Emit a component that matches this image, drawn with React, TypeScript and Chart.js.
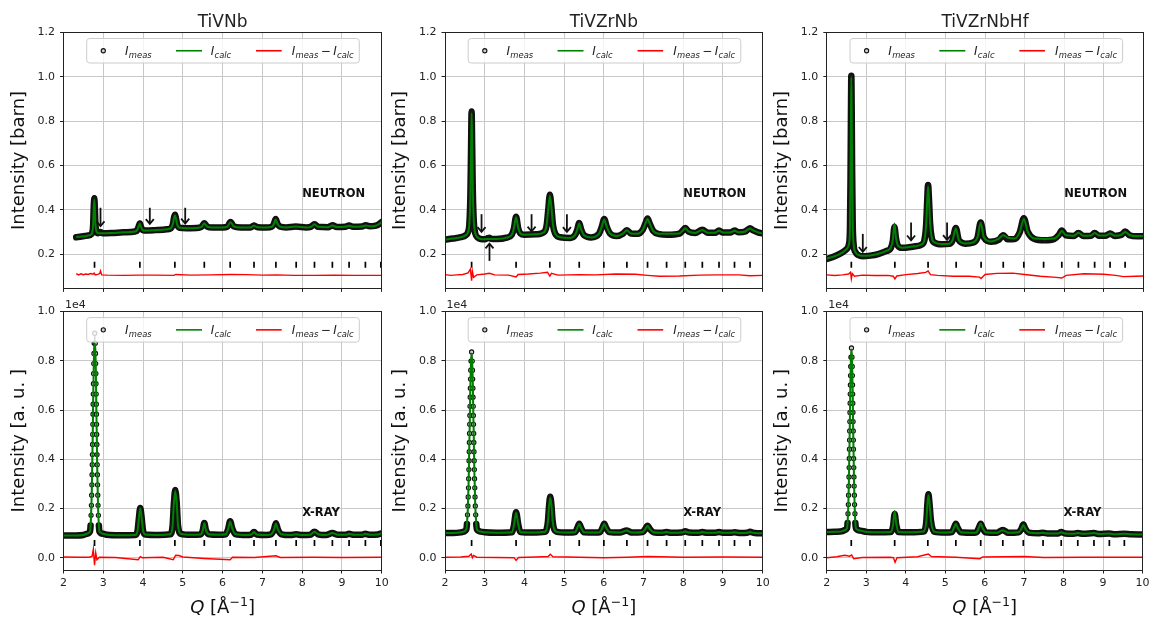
import React, { useEffect, useRef } from "react";
import { Chart, registerables } from "chart.js";

Chart.register(...registerables);
const FONT = "'DejaVu Sans', sans-serif";
Chart.defaults.font.family = FONT;
Chart.defaults.color = "#222";

// ---------------- shared axes ----------------
const qTicks = [2, 3, 4, 5, 6, 7, 8, 9, 10];
const yTicksNeutron = [0.2, 0.4, 0.6, 0.8, 1.0, 1.2];
const yTicksXray = [0.0, 0.2, 0.4, 0.6, 0.8, 1.0];
const titles = ["TiVNb", "TiVZrNb", "TiVZrNbHf"];

// ---------------- TiVNb neutron ----------------
const qA = [2.32, 2.45, 2.6, 2.68, 2.72, 2.745, 2.76, 2.775, 2.79, 2.805,
  2.83, 2.87, 2.93, 2.98, 3.2, 3.5, 3.8, 3.85, 3.89, 3.92,
  3.95, 3.99, 4.05, 4.3, 4.6, 4.7, 4.75, 4.78, 4.805, 4.83,
  4.86, 4.92, 5.1, 5.4, 5.47, 5.54, 5.61, 5.75, 6.0, 6.12,
  6.2, 6.28, 6.45, 6.7, 6.79, 6.88, 7.1, 7.24, 7.29, 7.335,
  7.38, 7.44, 7.6, 7.84, 8.1, 8.22, 8.31, 8.4, 8.65, 8.76,
  8.87, 9.08, 9.18, 9.28, 9.5, 9.6, 9.7, 9.85, 9.93, 10.0];
const measA = [0.276, 0.279, 0.283, 0.287, 0.295, 0.33, 0.41, 0.452, 0.40, 0.33,
  0.302, 0.294, 0.3, 0.294, 0.295, 0.298, 0.302, 0.307, 0.325, 0.338,
  0.322, 0.309, 0.306, 0.308, 0.312, 0.317, 0.334, 0.366, 0.377, 0.359,
  0.332, 0.319, 0.317, 0.319, 0.323, 0.339, 0.324, 0.32, 0.32, 0.324,
  0.345, 0.325, 0.32, 0.32, 0.329, 0.321, 0.32, 0.324, 0.336, 0.358,
  0.337, 0.324, 0.32, 0.324, 0.32, 0.323, 0.335, 0.323, 0.321, 0.33,
  0.322, 0.323, 0.329, 0.323, 0.324, 0.33, 0.325, 0.328, 0.335, 0.345];
const calcA = [0.277, 0.279, 0.283, 0.287, 0.296, 0.332, 0.405, 0.445, 0.398, 0.332,
  0.302, 0.294, 0.294, 0.294, 0.295, 0.298, 0.302, 0.308, 0.325, 0.337,
  0.322, 0.309, 0.306, 0.308, 0.312, 0.317, 0.336, 0.364, 0.374, 0.358,
  0.332, 0.319, 0.317, 0.319, 0.323, 0.338, 0.324, 0.32, 0.32, 0.324,
  0.344, 0.325, 0.32, 0.32, 0.328, 0.321, 0.32, 0.324, 0.336, 0.356,
  0.337, 0.324, 0.32, 0.324, 0.32, 0.323, 0.334, 0.323, 0.321, 0.329,
  0.322, 0.323, 0.328, 0.323, 0.324, 0.329, 0.325, 0.328, 0.335, 0.344];
const dqA = [2.32, 2.38, 2.44, 2.5, 2.56, 2.62, 2.68, 2.74, 2.77, 2.80,
  2.86, 2.91, 2.93, 2.96, 3.1, 3.5, 3.9, 4.3, 4.78, 4.82,
  5.2, 5.7, 6.2, 6.6, 7.0, 7.35, 7.8, 8.3, 8.8, 9.3, 9.7, 10.0];
const diffA = [0.112, 0.106, 0.111, 0.107, 0.11, 0.108, 0.112, 0.109, 0.114, 0.106,
  0.108, 0.112, 0.124, 0.106, 0.105, 0.104, 0.105, 0.105, 0.104, 0.108,
  0.105, 0.106, 0.108, 0.107, 0.105, 0.106, 0.104, 0.104, 0.105, 0.104, 0.104, 0.104];
const braggA = [2.78, 3.92, 4.80, 5.54, 6.19, 6.79, 7.34, 7.85, 8.31, 8.76, 9.18, 9.59, 9.98];
const arrowsA = [[2.93, 0.409, 0.326], [4.17, 0.409, 0.336], [5.06, 0.409, 0.338]];

// ---------------- TiVZrNb neutron ----------------
const qB = [2.0, 2.2, 2.4, 2.52, 2.58, 2.615, 2.64, 2.655, 2.67, 2.685,
  2.70, 2.725, 2.76, 2.82, 2.9, 3.0, 3.08, 3.12, 3.16, 3.3,
  3.55, 3.68, 3.735, 3.79, 3.845, 3.9, 4.0, 4.3, 4.5, 4.56,
  4.6, 4.64, 4.68, 4.72, 4.78, 4.9, 5.15, 5.28, 5.33, 5.38,
  5.43, 5.5, 5.68, 5.88, 5.95, 6.01, 6.07, 6.15, 6.32, 6.48,
  6.58, 6.68, 6.85, 6.98, 7.05, 7.1, 7.15, 7.24, 7.4, 7.6,
  7.9, 7.98, 8.05, 8.13, 8.3, 8.48, 8.62, 8.8, 8.9, 9.0,
  9.18, 9.29, 9.4, 9.56, 9.62, 9.68, 9.75, 9.88, 10.0];
const measB = [0.265, 0.27, 0.276, 0.285, 0.3, 0.34, 0.47, 0.66, 0.843, 0.68,
  0.49, 0.35, 0.295, 0.275, 0.268, 0.267, 0.272, 0.274, 0.269, 0.268,
  0.274, 0.287, 0.315, 0.368, 0.315, 0.293, 0.287, 0.289, 0.3, 0.33,
  0.4, 0.468, 0.41, 0.33, 0.29, 0.276, 0.273, 0.287, 0.31, 0.34,
  0.31, 0.285, 0.275, 0.292, 0.325, 0.358, 0.325, 0.294, 0.281, 0.292,
  0.308, 0.293, 0.292, 0.31, 0.34, 0.36, 0.34, 0.305, 0.29, 0.287,
  0.292, 0.305, 0.318, 0.302, 0.295, 0.31, 0.296, 0.296, 0.306, 0.297,
  0.297, 0.306, 0.298, 0.302, 0.31, 0.316, 0.308, 0.298, 0.293];
const calcB = [0.265, 0.27, 0.276, 0.285, 0.3, 0.34, 0.47, 0.655, 0.835, 0.675,
  0.49, 0.35, 0.295, 0.275, 0.268, 0.267, 0.268, 0.268, 0.268, 0.268,
  0.274, 0.287, 0.317, 0.366, 0.316, 0.293, 0.287, 0.289, 0.3, 0.332,
  0.402, 0.462, 0.41, 0.33, 0.29, 0.276, 0.273, 0.287, 0.31, 0.337,
  0.31, 0.285, 0.275, 0.292, 0.325, 0.355, 0.325, 0.294, 0.281, 0.292,
  0.307, 0.293, 0.292, 0.31, 0.34, 0.358, 0.34, 0.305, 0.292, 0.292,
  0.293, 0.305, 0.316, 0.302, 0.295, 0.309, 0.296, 0.296, 0.305, 0.297,
  0.297, 0.305, 0.298, 0.302, 0.31, 0.315, 0.308, 0.298, 0.293];
const dqB = [2.0, 2.15, 2.3, 2.45, 2.58, 2.64, 2.67, 2.69, 2.72, 2.8,
  3.0, 3.12, 3.25, 3.6, 3.79, 3.84, 4.1, 4.4, 4.58, 4.64,
  4.68, 4.85, 5.38, 5.8, 6.3, 6.8, 7.1, 7.4, 7.9, 8.4,
  8.9, 9.4, 9.68, 10.0];
const diffB = [0.107, 0.104, 0.106, 0.108, 0.115, 0.132, 0.08, 0.122, 0.095, 0.106,
  0.11, 0.113, 0.106, 0.105, 0.097, 0.108, 0.11, 0.114, 0.118, 0.1,
  0.113, 0.105, 0.107, 0.106, 0.11, 0.109, 0.104, 0.1, 0.101, 0.105,
  0.106, 0.106, 0.102, 0.104];
const braggB = [2.67, 3.79, 4.64, 5.38, 6.0, 6.58, 7.1, 7.58, 8.05, 8.48, 8.9, 9.29, 9.68];
const arrowsB = [[2.92, 0.38, 0.30], [3.12, 0.169, 0.247], [4.18, 0.38, 0.302], [5.07, 0.38, 0.30]];

// ---------------- TiVZrNbHf neutron ----------------
const qC = [2.0, 2.2, 2.4, 2.5, 2.56, 2.585, 2.60, 2.61, 2.62, 2.63,
  2.64, 2.655, 2.68, 2.72, 2.8, 2.9, 3.1, 3.3, 3.5, 3.62,
  3.67, 3.71, 3.75, 3.8, 3.9, 4.2, 4.4, 4.47, 4.51, 4.535,
  4.56, 4.585, 4.61, 4.65, 4.72, 4.9, 5.1, 5.18, 5.26, 5.34,
  5.5, 5.7, 5.81, 5.89, 5.97, 6.15, 6.35, 6.46, 6.57, 6.75,
  6.88, 6.98, 7.08, 7.25, 7.5, 7.75, 7.86, 7.94, 8.04, 8.25,
  8.36, 8.48, 8.68, 8.77, 8.88, 9.05, 9.16, 9.28, 9.45, 9.54,
  9.65, 9.85, 10.0];
const measC = [0.178, 0.19, 0.208, 0.222, 0.245, 0.31, 0.55, 0.82, 1.005, 0.84,
  0.58, 0.34, 0.24, 0.21, 0.195, 0.19, 0.193, 0.2, 0.213, 0.228,
  0.26, 0.322, 0.27, 0.237, 0.228, 0.234, 0.243, 0.265, 0.33, 0.43,
  0.512, 0.44, 0.34, 0.275, 0.252, 0.244, 0.246, 0.262, 0.318, 0.262,
  0.247, 0.252, 0.275, 0.343, 0.275, 0.256, 0.265, 0.285, 0.267, 0.268,
  0.3, 0.362, 0.3, 0.268, 0.262, 0.268, 0.285, 0.306, 0.285, 0.282,
  0.295, 0.282, 0.283, 0.295, 0.283, 0.283, 0.293, 0.282, 0.287, 0.302,
  0.285, 0.28, 0.281];
const calcC = [0.18, 0.19, 0.208, 0.222, 0.245, 0.31, 0.55, 0.81, 0.998, 0.83,
  0.58, 0.34, 0.24, 0.21, 0.196, 0.192, 0.194, 0.201, 0.214, 0.23,
  0.265, 0.338, 0.272, 0.238, 0.229, 0.235, 0.244, 0.266, 0.33, 0.43,
  0.505, 0.44, 0.34, 0.276, 0.253, 0.245, 0.247, 0.263, 0.315, 0.263,
  0.248, 0.253, 0.276, 0.34, 0.276, 0.257, 0.27, 0.285, 0.274, 0.27,
  0.3, 0.358, 0.3, 0.27, 0.268, 0.27, 0.285, 0.304, 0.286, 0.283,
  0.296, 0.283, 0.284, 0.295, 0.284, 0.284, 0.293, 0.283, 0.288, 0.3,
  0.286, 0.281, 0.282];
const dqC = [2.0, 2.2, 2.4, 2.55, 2.6, 2.62, 2.645, 2.7, 2.9, 3.2,
  3.55, 3.68, 3.72, 3.77, 4.0, 4.3, 4.5, 4.56, 4.62, 4.8,
  5.2, 5.6, 5.86, 5.9, 6.0, 6.3, 6.7, 7.0, 7.4, 7.8,
  7.94, 8.05, 8.5, 9.0, 9.3, 9.5, 9.8, 10.0];
const diffC = [0.106, 0.103, 0.106, 0.11, 0.118, 0.088, 0.112, 0.1, 0.105, 0.103,
  0.104, 0.1, 0.088, 0.101, 0.107, 0.112, 0.117, 0.124, 0.107, 0.104,
  0.1, 0.1, 0.096, 0.09, 0.108, 0.113, 0.114, 0.108, 0.1, 0.095,
  0.092, 0.104, 0.111, 0.109, 0.104, 0.098, 0.1, 0.101];
const braggC = [2.62, 3.72, 4.56, 5.27, 5.90, 6.46, 6.98, 7.48, 7.94, 8.36, 8.77, 9.16, 9.54];
const arrowsC = [[2.91, 0.291, 0.21], [4.13, 0.343, 0.262], [5.04, 0.343, 0.264]];

// ---------------- TiVNb X-ray (x 1e4) ----------------
const qD = [2.0, 2.3, 2.5, 2.58,
  2.666, 2.681, 2.693, 2.702, 2.708, 2.714, 2.718, 2.723, 2.727, 2.731, 2.735, 2.738, 2.742, 2.745, 2.749, 2.753, 2.756, 2.761, 2.765, 2.772,
  2.785,
  2.799, 2.805, 2.809, 2.814, 2.817, 2.821, 2.825, 2.828, 2.832, 2.835, 2.839, 2.843, 2.847, 2.852, 2.856, 2.862, 2.868, 2.877, 2.889, 2.904,
  3.0, 3.1, 3.4, 3.8, 3.86, 3.895, 3.93, 3.965, 4.0, 4.06,
  4.4, 4.68, 4.74, 4.775, 4.81, 4.845, 4.88, 4.95, 5.2, 5.44,
  5.5, 5.54, 5.58, 5.66, 5.9, 6.08, 6.14, 6.19, 6.24, 6.32,
  6.6, 6.72, 6.79, 6.86, 7.1, 7.22, 7.29, 7.34, 7.39, 7.48,
  7.7, 7.85, 8.0, 8.2, 8.31, 8.42, 8.6, 8.76, 8.9, 9.1,
  9.18, 9.3, 9.5, 9.59, 9.7, 9.9, 9.98, 10.0];
const measD = [0.09, 0.09, 0.092, 0.097,
  0.106, 0.131, 0.172, 0.213, 0.254, 0.296, 0.337, 0.378, 0.419, 0.46, 0.501, 0.542, 0.583, 0.624, 0.665, 0.707, 0.748, 0.789, 0.83, 0.871,
  0.912,
  0.871, 0.83, 0.789, 0.748, 0.707, 0.665, 0.624, 0.583, 0.542, 0.501, 0.46, 0.419, 0.378, 0.337, 0.296, 0.254, 0.213, 0.172, 0.131, 0.106,
  0.097, 0.093, 0.091, 0.092, 0.108, 0.16, 0.202, 0.162, 0.11, 0.094,
  0.092, 0.095, 0.125, 0.22, 0.275, 0.225, 0.13, 0.097, 0.093, 0.094,
  0.11, 0.141, 0.112, 0.095, 0.093, 0.095, 0.117, 0.148, 0.12, 0.096,
  0.092, 0.094, 0.104, 0.094, 0.092, 0.095, 0.113, 0.14, 0.115, 0.095,
  0.092, 0.095, 0.092, 0.093, 0.105, 0.094, 0.092, 0.1, 0.093, 0.093,
  0.097, 0.093, 0.093, 0.097, 0.093, 0.094, 0.098, 0.097];
const calcD = [0.09, 0.09, 0.092, 0.097,
  0.106, 0.131, 0.172, 0.213, 0.254, 0.296, 0.337, 0.378, 0.419, 0.46, 0.501, 0.542, 0.583, 0.624, 0.665, 0.707, 0.748, 0.785, 0.82, 0.85,
  0.872,
  0.85, 0.82, 0.785, 0.748, 0.707, 0.665, 0.624, 0.583, 0.542, 0.501, 0.46, 0.419, 0.378, 0.337, 0.296, 0.254, 0.213, 0.172, 0.131, 0.106,
  0.097, 0.093, 0.091, 0.092, 0.108, 0.16, 0.2, 0.162, 0.11, 0.094,
  0.092, 0.095, 0.125, 0.22, 0.27, 0.225, 0.13, 0.097, 0.093, 0.094,
  0.11, 0.14, 0.112, 0.095, 0.093, 0.095, 0.117, 0.146, 0.12, 0.096,
  0.092, 0.094, 0.104, 0.094, 0.092, 0.095, 0.113, 0.138, 0.115, 0.095,
  0.092, 0.095, 0.092, 0.093, 0.105, 0.094, 0.092, 0.1, 0.093, 0.093,
  0.097, 0.093, 0.093, 0.097, 0.093, 0.094, 0.098, 0.097];
const dqD = [2.0, 2.4, 2.65, 2.72, 2.75, 2.78, 2.81, 2.84, 2.9, 3.3,
  3.88, 3.93, 3.98, 4.5, 4.76, 4.82, 4.9, 5.0, 5.54, 6.19,
  6.25, 6.8, 7.34, 7.45, 8.3, 9.0, 10.0];
const diffD = [0.003, 0.002, 0.002, 0.006, 0.035, -0.03, 0.02, -0.008, 0.002, 0.001,
  -0.008, 0.004, 0.0, 0.002, -0.008, 0.01, 0.009, 0.003, -0.003, -0.008,
  0.002, 0.001, 0.008, 0.001, 0.002, 0.001, 0.002];

// ---------------- TiVZrNb X-ray (x 1e4) ----------------
const qE = [2.0, 2.2, 2.4, 2.45,
  2.537, 2.553, 2.567, 2.577, 2.584, 2.591, 2.596, 2.601, 2.605, 2.610, 2.614, 2.618, 2.622, 2.626, 2.630, 2.634, 2.638, 2.643, 2.648, 2.655,
  2.67,
  2.685, 2.692, 2.697, 2.702, 2.706, 2.711, 2.714, 2.718, 2.723, 2.726, 2.730, 2.735, 2.739, 2.744, 2.750, 2.756, 2.763, 2.773, 2.787, 2.804,
  2.9, 3.0, 3.3, 3.68, 3.735, 3.79, 3.845, 3.9, 4.2, 4.52,
  4.59, 4.62, 4.65, 4.68, 4.71, 4.8, 5.1, 5.28, 5.33, 5.38,
  5.43, 5.5, 5.8, 5.9, 5.96, 6.01, 6.06, 6.14, 6.4, 6.58,
  6.7, 6.98, 7.04, 7.1, 7.16, 7.25, 7.45, 7.58, 7.7, 7.95,
  8.05, 8.15, 8.38, 8.48, 8.6, 8.8, 8.9, 9.0, 9.18, 9.29,
  9.45, 9.6, 9.68, 9.8, 10.0];
const measE = [0.10, 0.10, 0.103, 0.105,
  0.115, 0.137, 0.174, 0.21, 0.247, 0.284, 0.321, 0.358, 0.394, 0.431, 0.468, 0.505, 0.542, 0.578, 0.615, 0.652, 0.689, 0.726, 0.762, 0.799,
  0.836,
  0.799, 0.762, 0.726, 0.689, 0.652, 0.615, 0.578, 0.542, 0.505, 0.468, 0.431, 0.394, 0.358, 0.321, 0.284, 0.247, 0.21, 0.174, 0.137, 0.115,
  0.106, 0.103, 0.101, 0.103, 0.13, 0.185, 0.135, 0.104, 0.102, 0.105,
  0.145, 0.21, 0.248, 0.215, 0.15, 0.106, 0.102, 0.104, 0.12, 0.138,
  0.12, 0.103, 0.102, 0.104, 0.12, 0.138, 0.121, 0.104, 0.102, 0.111,
  0.102, 0.104, 0.116, 0.13, 0.116, 0.103, 0.101, 0.104, 0.101, 0.102,
  0.107, 0.102, 0.101, 0.104, 0.101, 0.101, 0.104, 0.101, 0.101, 0.103,
  0.1, 0.101, 0.105, 0.1, 0.099];
const calcE = [0.10, 0.10, 0.103, 0.105,
  0.115, 0.137, 0.174, 0.21, 0.247, 0.284, 0.321, 0.358, 0.394, 0.431, 0.468, 0.505, 0.542, 0.578, 0.615, 0.652, 0.689, 0.726, 0.76, 0.795,
  0.83,
  0.795, 0.76, 0.726, 0.689, 0.652, 0.615, 0.578, 0.542, 0.505, 0.468, 0.431, 0.394, 0.358, 0.321, 0.284, 0.247, 0.21, 0.174, 0.137, 0.115,
  0.106, 0.103, 0.101, 0.103, 0.13, 0.183, 0.135, 0.104, 0.102, 0.105,
  0.145, 0.21, 0.244, 0.215, 0.15, 0.106, 0.102, 0.104, 0.12, 0.137,
  0.12, 0.103, 0.102, 0.104, 0.12, 0.137, 0.121, 0.104, 0.102, 0.11,
  0.102, 0.104, 0.116, 0.129, 0.116, 0.103, 0.101, 0.104, 0.101, 0.102,
  0.106, 0.102, 0.101, 0.104, 0.101, 0.101, 0.104, 0.101, 0.101, 0.103,
  0.1, 0.101, 0.104, 0.1, 0.099];
const dqE = [2.0, 2.4, 2.6, 2.66, 2.69, 2.72, 2.8, 3.3, 3.74, 3.79,
  3.85, 4.3, 4.6, 4.65, 4.72, 5.38, 6.0, 6.6, 7.1, 8.0, 9.0, 10.0];
const diffE = [0.002, 0.003, 0.006, 0.015, 0.0, 0.009, 0.002, 0.001, 0.0, -0.011,
  0.001, 0.003, 0.005, 0.014, 0.004, 0.002, 0.0, 0.002, 0.005, 0.002, 0.003, 0.002];

// ---------------- TiVZrNbHf X-ray (x 1e4) ----------------
const qF = [2.0, 2.2, 2.4, 2.45,
  2.511, 2.526, 2.537, 2.546, 2.551, 2.557, 2.562, 2.566, 2.570, 2.574, 2.577, 2.580, 2.584, 2.587, 2.591, 2.594, 2.598, 2.602, 2.606, 2.612,
  2.625,
  2.638, 2.644, 2.648, 2.652, 2.656, 2.659, 2.662, 2.666, 2.670, 2.673, 2.676, 2.680, 2.684, 2.688, 2.693, 2.699, 2.704, 2.713, 2.724, 2.739,
  2.85, 3.0, 3.3, 3.62, 3.68, 3.72, 3.76, 3.82, 4.1, 4.45,
  4.52, 4.55, 4.575, 4.6, 4.64, 4.72, 5.0, 5.17, 5.22, 5.27,
  5.32, 5.4, 5.75, 5.8, 5.85, 5.9, 5.95, 6.03, 6.3, 6.46,
  6.6, 6.86, 6.93, 6.98, 7.03, 7.12, 7.35, 7.48, 7.6, 7.85,
  7.94, 8.05, 8.25, 8.36, 8.5, 8.77, 8.9, 9.16, 9.3, 9.54,
  9.7, 10.0];
const measF = [0.104, 0.105, 0.108, 0.112,
  0.119, 0.141, 0.179, 0.216, 0.254, 0.291, 0.328, 0.366, 0.403, 0.441, 0.478, 0.515, 0.553, 0.59, 0.628, 0.665, 0.702, 0.74, 0.777, 0.815,
  0.852,
  0.815, 0.777, 0.74, 0.702, 0.665, 0.628, 0.59, 0.553, 0.515, 0.478, 0.441, 0.403, 0.366, 0.328, 0.291, 0.254, 0.216, 0.179, 0.141, 0.119,
  0.11, 0.105, 0.103, 0.104, 0.128, 0.178, 0.133, 0.104, 0.103, 0.106,
  0.145, 0.22, 0.258, 0.225, 0.15, 0.106, 0.102, 0.104, 0.12, 0.138,
  0.12, 0.103, 0.101, 0.104, 0.12, 0.138, 0.12, 0.103, 0.101, 0.113,
  0.101, 0.103, 0.117, 0.135, 0.118, 0.102, 0.099, 0.101, 0.098, 0.098,
  0.104, 0.098, 0.097, 0.1, 0.097, 0.1, 0.096, 0.098, 0.095, 0.097,
  0.095, 0.094];
const calcF = [0.104, 0.105, 0.108, 0.112,
  0.119, 0.141, 0.179, 0.216, 0.254, 0.291, 0.328, 0.366, 0.403, 0.441, 0.478, 0.515, 0.553, 0.59, 0.628, 0.665, 0.702, 0.74, 0.775, 0.81,
  0.845,
  0.81, 0.775, 0.74, 0.702, 0.665, 0.628, 0.59, 0.553, 0.515, 0.478, 0.441, 0.403, 0.366, 0.328, 0.291, 0.254, 0.216, 0.179, 0.141, 0.119,
  0.11, 0.105, 0.103, 0.104, 0.135, 0.19, 0.14, 0.104, 0.103, 0.106,
  0.145, 0.22, 0.254, 0.225, 0.15, 0.106, 0.102, 0.104, 0.12, 0.137,
  0.12, 0.103, 0.101, 0.104, 0.12, 0.139, 0.12, 0.103, 0.101, 0.112,
  0.101, 0.103, 0.117, 0.133, 0.118, 0.102, 0.099, 0.101, 0.098, 0.098,
  0.103, 0.098, 0.097, 0.1, 0.097, 0.1, 0.096, 0.098, 0.095, 0.097,
  0.095, 0.094];
const dqF = [2.0, 2.25, 2.45, 2.58, 2.63, 2.68, 2.9, 3.6, 3.69, 3.73,
  3.78, 4.3, 4.57, 4.65, 5.27, 5.88, 5.95, 6.5, 7.0, 7.5, 8.5, 9.5, 10.0];
const diffF = [0.0, 0.004, 0.01, 0.006, 0.011, -0.004, 0.001, 0.002, 0.0, -0.019,
  0.0, 0.004, 0.015, 0.005, 0.002, -0.004, 0.003, 0.004, 0.005, 0.001, 0.002, 0.002, 0.002];

// ---------------- layout constants ----------------
const COL_X = [0, 381, 763];
const COL_W = [396, 396, 390];
const AXIS_W = [63.5, 64, 63.8];
const PLOT_W = [318.2, 317.7, 316.5];
const ROW_Y = [0, 300];
const ROW_H = [300, 322];
const PAD_TOP = [32.5, 10];
const XAXIS_H = [6, 52];
const Y_RANGE = [[0.045, 1.2], [-0.05, 1.0]];

type Panel = {
  row: number; col: number;
  q: number[]; meas: number[]; calc: number[];
  dq: number[]; diff: number[];
  bragg: number[]; braggY: number;
  arrows: number[][];
  tag: string; tagY: number;
};

const PANELS: Panel[] = [
  { row: 0, col: 0, q: qA, meas: measA, calc: calcA, dq: dqA, diff: diffA, bragg: braggA, braggY: 0.152, arrows: arrowsA, tag: "NEUTRON", tagY: 0.47 },
  { row: 0, col: 1, q: qB, meas: measB, calc: calcB, dq: dqB, diff: diffB, bragg: braggB, braggY: 0.152, arrows: arrowsB, tag: "NEUTRON", tagY: 0.47 },
  { row: 0, col: 2, q: qC, meas: measC, calc: calcC, dq: dqC, diff: diffC, bragg: braggC, braggY: 0.152, arrows: arrowsC, tag: "NEUTRON", tagY: 0.47 },
  { row: 1, col: 0, q: qD, meas: measD, calc: calcD, dq: dqD, diff: diffD, bragg: braggA, braggY: 0.06, arrows: [], tag: "X-RAY", tagY: 0.18 },
  { row: 1, col: 1, q: qE, meas: measE, calc: calcE, dq: dqE, diff: diffE, bragg: braggB, braggY: 0.06, arrows: [], tag: "X-RAY", tagY: 0.18 },
  { row: 1, col: 2, q: qF, meas: measF, calc: calcF, dq: dqF, diff: diffF, bragg: braggC, braggY: 0.06, arrows: [], tag: "X-RAY", tagY: 0.18 },
];

function drawSym(ctx: any, x: number, base: number, sub: string) {
  ctx.font = `italic 12px ${FONT}`;
  ctx.fillText("I", x, base);
  const w = ctx.measureText("I").width + 0.3;
  ctx.font = `italic 8.4px ${FONT}`;
  ctx.fillText(sub, x + w, base + 2.6);
  return x + w + ctx.measureText(sub).width;
}

function drawLegend(ctx: any, L: number, T: number) {
  const bx = L + 23.2, by = T + 6, bw = 272.6, bh = 24.5, r = 3;
  ctx.save();
  ctx.beginPath();
  ctx.moveTo(bx + r, by);
  ctx.lineTo(bx + bw - r, by);
  ctx.arcTo(bx + bw, by, bx + bw, by + r, r);
  ctx.lineTo(bx + bw, by + bh - r);
  ctx.arcTo(bx + bw, by + bh, bx + bw - r, by + bh, r);
  ctx.lineTo(bx + r, by + bh);
  ctx.arcTo(bx, by + bh, bx, by + bh - r, r);
  ctx.lineTo(bx, by + r);
  ctx.arcTo(bx, by, bx + r, by, r);
  ctx.closePath();
  ctx.fillStyle = "rgba(255,255,255,0.8)";
  ctx.fill();
  ctx.strokeStyle = "#cccccc";
  ctx.lineWidth = 1;
  ctx.stroke();
  const cy = by + bh / 2;
  const base = cy + 4.3;
  ctx.beginPath();
  ctx.arc(L + 39.8, cy, 2.1, 0, Math.PI * 2);
  ctx.fillStyle = "#d0d0d0";
  ctx.fill();
  ctx.strokeStyle = "#111";
  ctx.lineWidth = 1.1;
  ctx.stroke();
  ctx.fillStyle = "#222";
  ctx.textAlign = "left";
  ctx.textBaseline = "alphabetic";
  drawSym(ctx, L + 61.5, base, "meas");
  ctx.strokeStyle = "#008000";
  ctx.lineWidth = 1.6;
  ctx.beginPath(); ctx.moveTo(L + 112.5, cy); ctx.lineTo(L + 138.5, cy); ctx.stroke();
  drawSym(ctx, L + 147.2, base, "calc");
  ctx.strokeStyle = "#ff0000";
  ctx.beginPath(); ctx.moveTo(L + 192.5, cy); ctx.lineTo(L + 218.2, cy); ctx.stroke();
  let x = drawSym(ctx, L + 228.2, base, "meas");
  ctx.font = `12px ${FONT}`;
  x += 2.4;
  ctx.fillText("\u2212", x, base);
  x += ctx.measureText("\u2212").width + 2.4;
  drawSym(ctx, x, base, "calc");
  ctx.restore();
}

function drawXTitle(ctx: any, cx: number, base: number) {
  const parts = [
    { t: "Q", f: `italic 18px ${FONT}`, dy: 0 },
    { t: " [\u00C5", f: `18px ${FONT}`, dy: 0 },
    { t: "\u22121", f: `12.6px ${FONT}`, dy: -7.5 },
    { t: "]", f: `18px ${FONT}`, dy: 0 },
  ];
  let total = 0;
  for (const p of parts) { ctx.font = p.f; total += ctx.measureText(p.t).width; }
  let x = cx - total / 2;
  ctx.textAlign = "left";
  ctx.textBaseline = "alphabetic";
  for (const p of parts) {
    ctx.font = p.f;
    ctx.fillText(p.t, x, base + p.dy);
    x += ctx.measureText(p.t).width;
  }
}

function makeConfig(p: Panel): any {
  const r = p.row, c = p.col;
  const xray = r === 1;
  const pts = (xs: number[], ys: number[]) => xs.map((x, i) => ({ x, y: ys[i] }));
  const yTicks = xray ? yTicksXray : yTicksNeutron;
  const grid = { color: "#c8c8c8", lineWidth: 1, drawTicks: true, tickLength: 3.5, tickColor: "#222", tickWidth: 1 };
  // main (first) X-ray reflection: measured points are widely spaced on its steep flanks
  const steep = (i0: number, i1: number) =>
    p.q[i0] < 3.0 && Math.max(p.meas[i0], p.meas[i1]) > 0.16;

  const decor = {
    id: `decor${r}${c}`,
    afterDatasetsDraw(chart: any) {
      const { ctx, scales } = chart;
      const xs = scales.x, ys = scales.y;
      ctx.save();
      ctx.strokeStyle = "#111";
      ctx.lineWidth = 1.8;
      for (const [q, y0, y1] of p.arrows) {
        const px = xs.getPixelForValue(q);
        const a = ys.getPixelForValue(y0);
        const b = ys.getPixelForValue(y1);
        const dir = b > a ? 1 : -1;
        ctx.beginPath(); ctx.moveTo(px, a); ctx.lineTo(px, b - dir * 0.8); ctx.stroke();
        ctx.beginPath();
        ctx.moveTo(px - 4, b - dir * 4.8);
        ctx.lineTo(px, b);
        ctx.lineTo(px + 4, b - dir * 4.8);
        ctx.stroke();
      }
      ctx.restore();
    },
    afterDraw(chart: any) {
      const { ctx, chartArea: ca, scales } = chart;
      ctx.save();
      const l = Math.floor(ca.left) + 0.5, t = Math.floor(ca.top) + 0.5;
      const rr = Math.floor(ca.right) + 0.5, b = Math.floor(ca.bottom) + 0.5;
      ctx.strokeStyle = "#222";
      ctx.lineWidth = 1;
      ctx.strokeRect(l, t, rr - l, b - t);
      ctx.fillStyle = "#111";
      ctx.font = `bold 11.5px ${FONT}`;
      ctx.textAlign = "left";
      ctx.textBaseline = "middle";
      ctx.fillText(p.tag, scales.x.getPixelForValue(8.0), scales.y.getPixelForValue(p.tagY));
      ctx.fillStyle = "#222";
      if (r === 0) {
        ctx.font = `17px ${FONT}`;
        ctx.textAlign = "center";
        ctx.textBaseline = "alphabetic";
        ctx.fillText(titles[c], (ca.left + ca.right) / 2, 27);
      } else {
        ctx.font = `11px ${FONT}`;
        ctx.textAlign = "left";
        ctx.textBaseline = "alphabetic";
        ctx.fillText("1e4", ca.left + 1.5, ca.top - 4);
        ctx.fillStyle = "#111";
        drawXTitle(ctx, (ca.left + ca.right) / 2, 313);
      }
      ctx.restore();
      drawLegend(ctx, ca.left, ca.top);
    },
  };

  return {
    type: "line",
    data: {
      datasets: [
        {
          label: "I_calc", data: pts(p.q, p.calc), order: 0,
          borderColor: "#008000", borderWidth: 2, pointRadius: 0,
          cubicInterpolationMode: "monotone", fill: false,
        },
        {
          label: "I_meas", data: pts(p.q, p.meas), order: 1,
          borderColor: "#111", borderWidth: 6.5, borderCapStyle: "round", borderJoinStyle: "round",
          pointRadius: 2.1, pointBorderColor: "#111", pointBorderWidth: 1.1,
          pointBackgroundColor: (ctx: any) => (xray && ctx.raw && ctx.raw.x < 3.0 && ctx.raw.y > 0.16 ? "#d4d4d4" : "#1a1a1a"),
          cubicInterpolationMode: "monotone", fill: false,
          segment: xray ? {
            borderWidth: (ctx: any) => (steep(ctx.p0DataIndex, ctx.p1DataIndex) ? 0.8 : 6.5),
          } : undefined,
        },
        {
          label: "diff", data: pts(p.dq, p.diff), order: 2,
          borderColor: "#ff0000", borderWidth: 1.4, pointRadius: 0, tension: 0, fill: false,
        },
        {
          label: "bragg", data: p.bragg.map((x) => ({ x, y: p.braggY })), order: 3,
          showLine: false, pointStyle: "line", pointRotation: 90, pointRadius: 3,
          pointBorderColor: "#000", pointBorderWidth: 1.7, borderColor: "#000",
        },
      ],
    },
    options: {
      responsive: false,
      animation: false,
      events: [],
      layout: { padding: { left: 0, right: COL_W[c] - AXIS_W[c] - PLOT_W[c], top: PAD_TOP[r], bottom: 0 } },
      plugins: { legend: { display: false }, tooltip: { enabled: false }, title: { display: false } },
      scales: {
        x: {
          type: "linear", min: 2, max: 10,
          afterBuildTicks: (s: any) => { s.ticks = qTicks.map((v) => ({ value: v })); },
          afterFit: (s: any) => { s.height = XAXIS_H[r]; },
          grid, border: { display: false },
          ticks: {
            display: xray, font: { size: 11 }, color: "#222", padding: 3.5,
            maxRotation: 0, autoSkip: false, callback: (v: any) => String(v),
          },
        },
        y: {
          type: "linear", min: Y_RANGE[r][0], max: Y_RANGE[r][1],
          afterBuildTicks: (s: any) => { s.ticks = yTicks.map((v) => ({ value: v })); },
          afterFit: (s: any) => { s.width = AXIS_W[c]; },
          grid, border: { display: false },
          ticks: { font: { size: 11 }, color: "#222", padding: 5, callback: (v: any) => Number(v).toFixed(1) },
          title: {
            display: true, text: xray ? "Intensity [a. u. ]" : "Intensity [barn]",
            font: { size: 18 }, color: "#111", padding: { top: 8.7, bottom: 0 },
          },
        },
      },
    },
    plugins: [decor],
  };
}

function PanelChart({ spec }: { spec: Panel }) {
  const ref = useRef<HTMLCanvasElement>(null);
  useEffect(() => {
    if (!ref.current) return;
    const chart = new Chart(ref.current, makeConfig(spec));
    return () => chart.destroy();
  }, [spec]);
  const w = COL_W[spec.col], h = ROW_H[spec.row];
  return (
    <canvas
      ref={ref}
      width={w}
      height={h}
      style={{ position: "absolute", left: COL_X[spec.col], top: ROW_Y[spec.row], width: w, height: h }}
    />
  );
}

export default function App() {
  return (
    <div style={{ position: "absolute", left: 0, top: 0, width: 1153, height: 622, overflow: "hidden", background: "#fff" }}>
      {PANELS.map((p, i) => <PanelChart key={i} spec={p} />)}
    </div>
  );
}
